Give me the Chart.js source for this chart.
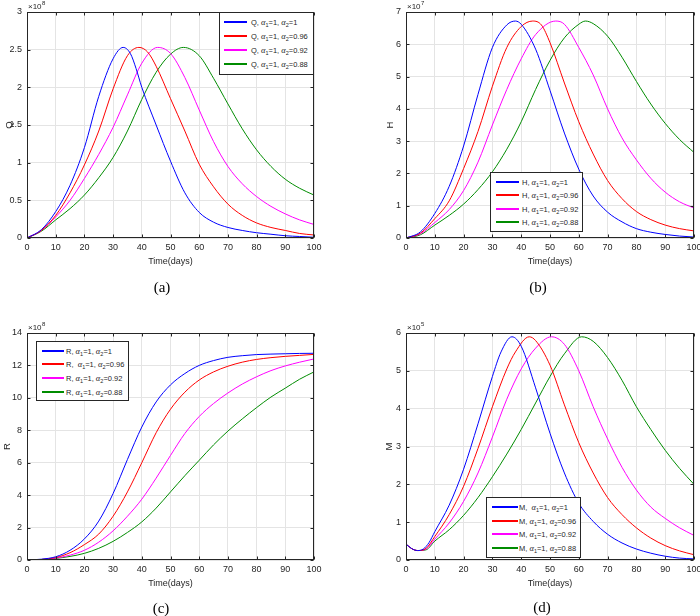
<!DOCTYPE html>
<html><head><meta charset="utf-8">
<script src="https://cdn.jsdelivr.net/npm/chart.js"></script>
<style>
html,body{margin:0;padding:0;background:#fff;width:700px;height:616px;overflow:hidden;position:relative;font-family:"Liberation Sans",Arial,sans-serif;}
.pane{position:absolute;}
.legend{position:absolute;background:#fff;border:1px solid #262626;box-sizing:border-box;font-size:7.5px;color:#262626;}
.row{position:absolute;left:0;height:10px;line-height:10px;white-space:nowrap;}
.sw{position:absolute;top:4px;height:1.5px;}
.tx{position:absolute;top:0;}
.al{font-family:"Liberation Serif","DejaVu Serif",serif;font-style:italic;font-size:8.5px;}
.sb{font-size:5.5px;position:relative;top:2px;}
.cap{position:absolute;font-family:"Liberation Serif","DejaVu Serif",serif;font-size:15px;color:#000;transform:translate(-50%,-50%);white-space:nowrap;}
</style></head><body>
<script>
// ---------------- DATA ----------------
const X_TICKS = [0,10,20,30,40,50,60,70,80,90,100];
const ALPHA2 = ['1','0.96','0.92','0.88'];
const COLORS = ['#0000ff','#ff0000','#ff00ff','#008c00'];

// Q (x10^8)
const Q_TICKS = [0,0.5,1,1.5,2,2.5,3];
const Q_A1 = [[0,0],[5,0.11],[10,0.35],[15,0.7],[20,1.2],[25,1.88],[30,2.38],[33.5,2.53],[36,2.45],[38,2.25],[40,2.0],[45,1.5],[50,1.02],[55,0.6],[60,0.34],[65,0.21],[70,0.14],[75,0.1],[80,0.07],[85,0.05],[90,0.03],[95,0.02],[100,0.01]];
const Q_A096 = [[0,0],[5,0.1],[10,0.3],[15,0.6],[20,0.97],[25,1.42],[30,1.98],[35,2.42],[39,2.53],[42,2.47],[45,2.28],[50,1.85],[55,1.42],[60,0.98],[65,0.68],[70,0.45],[75,0.3],[80,0.2],[85,0.14],[90,0.1],[95,0.06],[100,0.04]];
const Q_A092 = [[0,0],[5,0.1],[10,0.28],[15,0.5],[20,0.79],[25,1.11],[30,1.47],[35,1.9],[40,2.32],[45.5,2.53],[50,2.45],[55,2.13],[60,1.7],[65,1.28],[70,0.95],[75,0.72],[80,0.55],[85,0.42],[90,0.32],[95,0.24],[100,0.18]];
const Q_A088 = [[0,0],[5,0.09],[10,0.24],[15,0.39],[20,0.57],[25,0.8],[30,1.07],[35,1.42],[40,1.84],[45,2.2],[50,2.44],[54.5,2.53],[60,2.42],[65,2.12],[70,1.78],[75,1.45],[80,1.17],[85,0.95],[90,0.78],[95,0.66],[100,0.57]];

// H (x10^7)
const H_TICKS = [0,1,2,3,4,5,6,7];
const H_A1 = [[0,0],[5,0.19],[10,0.76],[15,1.6],[20,2.85],[25,4.45],[30,5.9],[35,6.6],[38,6.72],[40,6.62],[45,5.85],[50,4.57],[55,3.25],[60,2.13],[65,1.3],[70,0.8],[75,0.5],[80,0.29],[85,0.18],[90,0.11],[95,0.06],[100,0.03]];
const H_A096 = [[0,0],[5,0.15],[10,0.6],[15,1.15],[20,2.15],[25,3.3],[30,4.7],[35,5.9],[40,6.55],[44,6.72],[47,6.6],[50,6.05],[55,4.8],[60,3.6],[65,2.6],[70,1.78],[75,1.22],[80,0.82],[85,0.57],[90,0.4],[95,0.29],[100,0.22]];
const H_A092 = [[0,0],[5,0.13],[10,0.48],[15,0.88],[20,1.47],[25,2.35],[30,3.5],[35,4.6],[40,5.55],[45,6.3],[52,6.72],[55,6.62],[60,5.9],[65,5.05],[70,4.0],[75,3.1],[80,2.42],[85,1.85],[90,1.42],[95,1.12],[100,0.93]];
const H_A088 = [[0,0],[5,0.1],[10,0.4],[15,0.7],[20,1.05],[25,1.5],[30,2.05],[35,2.75],[40,3.6],[45,4.6],[50,5.5],[55,6.2],[60,6.62],[62.3,6.72],[65,6.64],[70,6.25],[75,5.6],[80,4.85],[85,4.15],[90,3.55],[95,3.05],[100,2.65]];

// R (x10^8)
const R_TICKS = [0,2,4,6,8,10,12,14];
const R_A1 = [[0,0],[5,0.05],[10,0.2],[15,0.6],[20,1.3],[25,2.4],[30,4.1],[35,6.2],[40,8.2],[45,9.75],[50,10.8],[55,11.5],[60,12.0],[65,12.3],[70,12.5],[75,12.6],[80,12.67],[85,12.7],[90,12.72],[95,12.74],[100,12.75]];
const R_A096 = [[0,0],[5,0.03],[10,0.15],[15,0.45],[20,0.95],[25,1.6],[30,2.7],[35,4.2],[40,6.0],[45,7.85],[50,9.3],[55,10.35],[60,11.1],[65,11.6],[70,11.95],[75,12.2],[80,12.37],[85,12.48],[90,12.56],[95,12.62],[100,12.68]];
const R_A092 = [[0,0],[5,0.03],[10,0.12],[15,0.3],[20,0.6],[25,1.1],[30,1.8],[35,2.7],[40,3.75],[45,5.05],[50,6.45],[55,7.8],[60,8.85],[65,9.65],[70,10.3],[75,10.85],[80,11.3],[85,11.68],[90,11.97],[95,12.2],[100,12.4]];
const R_A088 = [[0,0],[5,0.03],[10,0.1],[15,0.22],[20,0.41],[25,0.72],[30,1.15],[35,1.7],[40,2.35],[45,3.2],[50,4.2],[55,5.2],[60,6.15],[65,7.1],[70,7.95],[75,8.7],[80,9.4],[85,10.05],[90,10.6],[95,11.15],[100,11.6]];

// M (x10^5)
const M_TICKS = [0,1,2,3,4,5,6];
const M_A1 = [[0,0.42],[2,0.3],[4,0.25],[6,0.29],[8,0.46],[10,0.75],[15,1.45],[20,2.4],[25,3.6],[30,4.85],[33,5.5],[36.8,5.9],[40,5.65],[45,4.55],[50,3.35],[55,2.3],[60,1.5],[65,1.02],[70,0.68],[75,0.45],[80,0.29],[85,0.18],[90,0.1],[95,0.05],[100,0.03]];
const M_A096 = [[0,0.42],[2,0.3],[4,0.25],[7,0.31],[10,0.62],[15,1.2],[20,1.95],[25,2.95],[30,4.05],[35,5.05],[38,5.5],[42.8,5.9],[45,5.8],[50,5.15],[55,4.1],[60,3.1],[65,2.3],[70,1.65],[75,1.2],[80,0.85],[85,0.58],[90,0.38],[95,0.24],[100,0.14]];
const M_A092 = [[0,0.42],[2,0.3],[4,0.25],[7,0.29],[10,0.55],[15,0.98],[20,1.55],[25,2.3],[30,3.25],[35,4.25],[40,5.05],[45,5.6],[50.5,5.9],[55,5.7],[60,5.0],[65,4.05],[70,3.2],[75,2.45],[80,1.85],[85,1.4],[90,1.1],[95,0.85],[100,0.65]];
const M_A088 = [[0,0.42],[2,0.3],[4,0.25],[7,0.27],[10,0.5],[15,0.8],[20,1.18],[25,1.65],[30,2.2],[35,2.8],[40,3.45],[45,4.15],[50,4.85],[55,5.45],[61,5.9],[65,5.78],[70,5.35],[75,4.75],[80,4.05],[85,3.45],[90,2.9],[95,2.42],[100,2.0]];

// ---------------- RENDER ----------------
const FONT = '"Liberation Sans", Arial, sans-serif';
const TXT = '#262626';
const GRID = '#e4e4e4';

const framePlugin = {
  id: 'frame',
  afterDraw(chart, args, opts) {
    const {ctx, chartArea: a, scales: {x, y}} = chart;
    const L = Math.round(a.left) + 0.5, R = Math.round(a.right) - 0.5;
    const T = Math.round(a.top) + 0.5, B = Math.round(a.bottom) - 0.5;
    ctx.save();
    ctx.strokeStyle = TXT; ctx.lineWidth = 1;
    ctx.strokeRect(L, T, R - L, B - T);
    const tl = 3;
    ctx.beginPath();
    x.ticks.forEach(t => {
      const p = Math.round(x.getPixelForValue(t.value)) + 0.5;
      ctx.moveTo(p, B); ctx.lineTo(p, B - tl);
      ctx.moveTo(p, T); ctx.lineTo(p, T + tl);
    });
    y.ticks.forEach(t => {
      const p = Math.round(y.getPixelForValue(t.value)) + 0.5;
      ctx.moveTo(L, p); ctx.lineTo(L + tl, p);
      ctx.moveTo(R, p); ctx.lineTo(R - tl, p);
    });
    ctx.stroke();
    ctx.fillStyle = TXT;
    ctx.textBaseline = 'alphabetic';
    ctx.font = '8px ' + FONT;
    ctx.fillText('\u00d710', a.left + 1, a.top - 3);
    const w = ctx.measureText('\u00d710').width;
    ctx.font = '6px ' + FONT;
    ctx.fillText(opts.exp, a.left + 1 + w + 0.5, a.top - 7);
    ctx.restore();
  }
};

function panel(p) {
  const W = p.pw, H = p.ph, WY = 27, HX = 32;
  const div = document.createElement('div');
  div.className = 'pane';
  div.style.left = p.px + 'px'; div.style.top = p.py + 'px';
  div.style.width = W + 'px'; div.style.height = H + 'px';
  const c = document.createElement('canvas');
  c.width = W; c.height = H; c.style.width = W + 'px'; c.style.height = H + 'px';
  div.appendChild(c);
  document.body.appendChild(div);
  const pad = {
    left: p.L - p.px - WY,
    top: p.T - p.py,
    right: p.px + W - p.R,
    bottom: p.py + H - (p.B + HX)
  };
  new Chart(c, {
    type: 'line',
    data: {
      datasets: p.series.map((s, i) => ({
        label: p.name + ', α1=1, α2=' + ALPHA2[i],
        data: s.map(([x, y]) => ({x, y})),
        borderColor: COLORS[i], borderWidth: 1, pointRadius: 0,
        cubicInterpolationMode: 'monotone', fill: false
      }))
    },
    options: {
      responsive: false, animation: false, maintainAspectRatio: false,
      layout: {padding: pad},
      plugins: {legend: {display: false}, tooltip: {enabled: false}, frame: {exp: p.exp}},
      scales: {
        x: {
          type: 'linear', min: 0, max: 100,
          afterBuildTicks: s => { s.ticks = X_TICKS.map(v => ({value: v})); },
          grid: {color: GRID, drawTicks: false},
          border: {display: false},
          ticks: {padding: 4.5, color: TXT, font: {size: 9, family: FONT}, maxRotation: 0, autoSkip: false, callback: v => String(v)},
          title: {display: true, text: 'Time(days)', color: TXT, font: {size: 9, family: FONT}, padding: {top: 0, bottom: 2.6}},
          afterFit: s => { s.height = HX; s.paddingLeft = 0; s.paddingRight = 0; }
        },
        y: {
          type: 'linear', min: 0, max: p.ticks[p.ticks.length - 1],
          afterBuildTicks: s => { s.ticks = p.ticks.map(v => ({value: v})); },
          grid: {color: GRID, drawTicks: false},
          border: {display: false},
          ticks: {padding: 5, color: TXT, font: {size: 9, family: FONT}, autoSkip: false, callback: v => String(v)},
          title: {display: true, text: p.name, color: TXT, font: {size: 9.5, family: FONT}, padding: {top: p.titlePad, bottom: 0}},
          afterFit: s => { s.width = WY; s.paddingTop = 0; s.paddingBottom = 0; }
        }
      }
    },
    plugins: [framePlugin]
  });

  const lg = document.createElement('div');
  lg.className = 'legend';
  const g = p.leg;
  lg.style.left = g.x + 'px'; lg.style.top = g.y + 'px';
  lg.style.width = g.w + 'px'; lg.style.height = g.h + 'px';
  p.series.forEach((s, i) => {
    const row = document.createElement('div');
    row.className = 'row';
    row.style.top = Math.round(g.r0 + g.dr * i - 5) + 'px';
    row.style.width = g.w + 'px';
    const sw = document.createElement('div');
    sw.className = 'sw';
    sw.style.left = g.s0 + 'px'; sw.style.width = (g.s1 - g.s0) + 'px';
    sw.style.background = COLORS[i];
    const tx = document.createElement('span');
    tx.className = 'tx';
    tx.style.left = g.t0 + 'px';
    const sep = (g.wide === i) ? ',&nbsp; ' : ', ';
    tx.innerHTML = p.name + sep + '<span class="al">α</span><span class="sb">1</span>=1, <span class="al">α</span><span class="sb">2</span>=' + ALPHA2[i];
    row.appendChild(sw); row.appendChild(tx);
    lg.appendChild(row);
  });
  document.body.appendChild(lg);

  const cap = document.createElement('div');
  cap.className = 'cap';
  cap.style.left = p.cap[0] + 'px'; cap.style.top = p.cap[1] + 'px';
  cap.textContent = p.capText;
  document.body.appendChild(cap);
}

panel({name: 'Q', exp: '8', ticks: Q_TICKS, series: [Q_A1, Q_A096, Q_A092, Q_A088],
  px: 0, py: 0, pw: 350, ph: 300, L: 27, T: 12, R: 314, B: 238, titlePad: 4,
  leg: {x: 219, y: 12, w: 95, h: 63, r0: 9, dr: 13.9, s0: 4, s1: 27, t0: 31, wide: -1},
  cap: [162, 287], capText: '(a)'});
panel({name: 'H', exp: '7', ticks: H_TICKS, series: [H_A1, H_A096, H_A092, H_A088],
  px: 350, py: 0, pw: 350, ph: 300, L: 406, T: 12, R: 694, B: 238, titlePad: 5.6,
  leg: {x: 490, y: 172, w: 93, h: 60, r0: 9, dr: 13.4, s0: 5, s1: 28, t0: 31, wide: -1},
  cap: [538, 287], capText: '(b)'});
panel({name: 'R', exp: '8', ticks: R_TICKS, series: [R_A1, R_A096, R_A092, R_A088],
  px: 0, py: 300, pw: 350, ph: 316, L: 27, T: 333, R: 314, B: 560, titlePad: 2,
  leg: {x: 36, y: 341, w: 93, h: 60, r0: 8.5, dr: 13.7, s0: 5, s1: 27, t0: 29, wide: 1},
  cap: [161, 608], capText: '(c)'});
panel({name: 'M', exp: '5', ticks: M_TICKS, series: [M_A1, M_A096, M_A092, M_A088],
  px: 350, py: 300, pw: 350, ph: 316, L: 406, T: 333, R: 694, B: 560, titlePad: 4.6,
  leg: {x: 486, y: 497, w: 95, h: 61, r0: 9, dr: 13.7, s0: 5, s1: 31, t0: 32, wide: 0},
  cap: [542, 607], capText: '(d)'});
</script>
</body></html>
